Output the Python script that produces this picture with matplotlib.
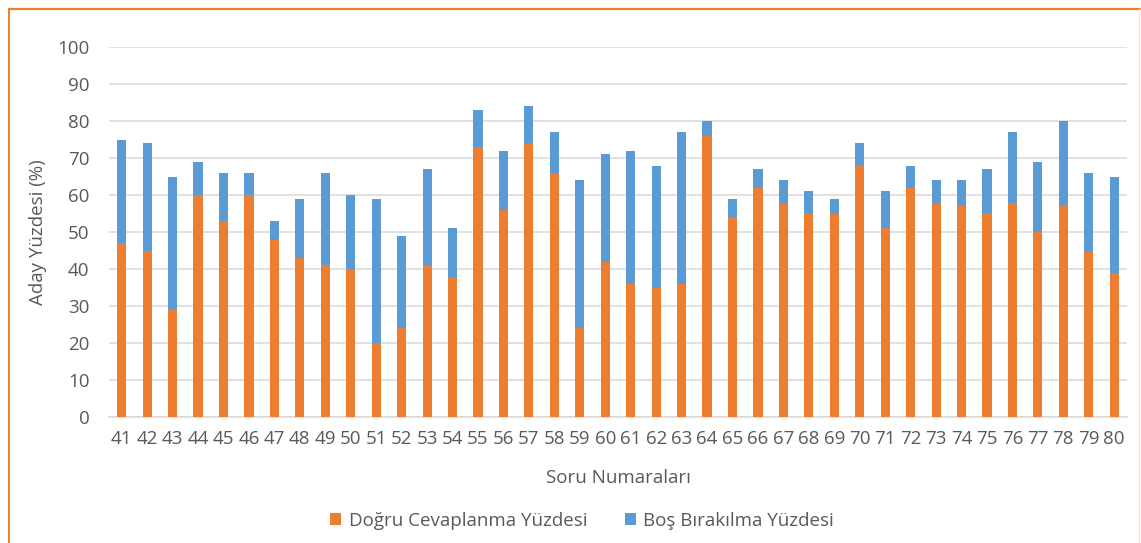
import matplotlib
matplotlib.use("Agg")
import matplotlib.pyplot as plt
from matplotlib.lines import Line2D
import numpy as np

questions = [str(q) for q in range(41, 81)]
dogru = [47, 45, 29, 60, 53, 60, 48, 43, 41, 40, 20, 24, 41, 38, 73, 56, 74, 66, 24, 42,
         36, 35, 36, 76, 54, 62, 58, 55, 55, 68, 51, 62, 58, 57, 55, 58, 50, 57, 45, 39]
bos = [28, 29, 36, 9, 13, 6, 5, 16, 25, 20, 39, 25, 26, 13, 10, 16, 10, 11, 40, 29,
       36, 33, 41, 4, 5, 5, 6, 6, 4, 6, 10, 6, 6, 7, 12, 19, 19, 23, 21, 26]
yticks = [0, 10, 20, 30, 40, 50, 60, 70, 80, 90, 100]

ORANGE = "#ED7D31"
BLUE = "#5B9BD5"
TXT = "#595959"
GRID = "#D9D9D9"

plt.rcParams['font.family'] = ['Open Sans', 'DejaVu Sans']

fig = plt.figure(figsize=(11.41, 5.43), dpi=100)
ax = fig.add_axes([0.0955, 0.232, 0.8922, 0.681])

x = np.arange(len(questions))
w = 0.36
ax.bar(x, dogru, w, color=ORANGE, label="Doğru Cevaplanma Yüzdesi", zorder=3)
ax.bar(x, bos, w, bottom=dogru, color=BLUE, label="Boş Bırakılma Yüzdesi", zorder=3)

ax.set_xlim(-0.5, len(questions) - 0.5)
ax.set_ylim(0, 100)
ax.set_yticks(yticks)
ax.set_xticks(x)
ax.set_xticklabels(questions)
ax.tick_params(axis='both', length=0, labelsize=13.5, colors=TXT)
ax.tick_params(axis='x', pad=9)
ax.tick_params(axis='y', pad=14)
ax.grid(axis='y', color=GRID, linewidth=1.1, zorder=0)
for s in ['top', 'right', 'left']:
    ax.spines[s].set_visible(False)
ax.spines['bottom'].set_color(GRID)
ax.spines['bottom'].set_linewidth(1.1)

ax.set_ylabel("Aday Yüzdesi (%)", fontsize=13.5, color=TXT)
ax.set_xlabel("Soru Numaraları", fontsize=13.5, color=TXT)
ax.yaxis.set_label_coords(-0.061, 0.5)
ax.xaxis.set_label_coords(0.5, -0.14)

leg = fig.legend(loc='center', bbox_to_anchor=(0.51, 0.041), ncol=2, frameon=False,
                 fontsize=13.5, handlelength=0.6, handleheight=0.6, columnspacing=2.0,
                 handletextpad=0.4)
for t in leg.get_texts():
    t.set_color(TXT)

# frame lines
fig.add_artist(Line2D([0.0075, 1.0], [0.984, 0.984], transform=fig.transFigure,
                      color=ORANGE, linewidth=1.6))
fig.add_artist(Line2D([0.0075, 0.0075], [0.0, 0.984], transform=fig.transFigure,
                      color=ORANGE, linewidth=1.4))
fig.add_artist(Line2D([0.9985, 0.9985], [0.0, 0.984], transform=fig.transFigure,
                      color="#FCE4D6", linewidth=1.0))

fig.savefig("out.png", dpi=100)
